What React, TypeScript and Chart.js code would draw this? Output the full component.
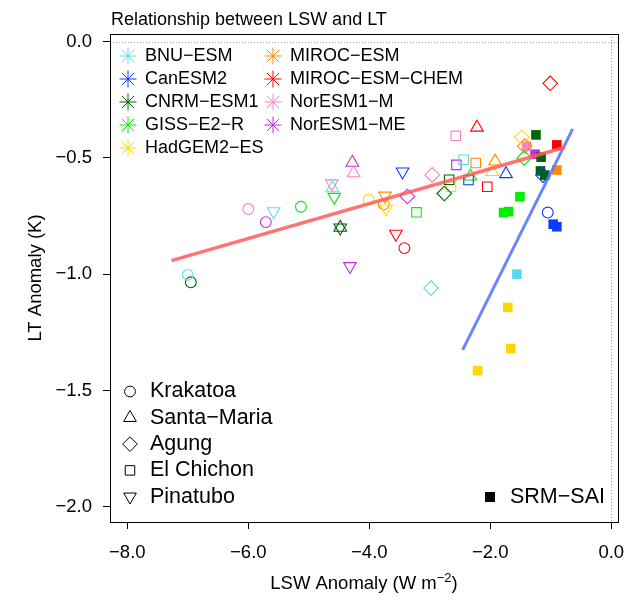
import React, { useEffect, useRef } from 'react';
import { Chart, registerables } from 'chart.js';
Chart.register(...registerables);

const MODELS = ['BNU−ESM', 'CanESM2', 'CNRM−ESM1', 'GISS−E2−R', 'HadGEM2−ES', 'MIROC−ESM', 'MIROC−ESM−CHEM', 'NorESM1−M', 'NorESM1−ME'];
const COLORS = ['#5ED6EE', '#0A3CFF', '#006400', '#00EE00', '#FFD700', '#FF8C00', '#FF0000', '#FF80C4', '#BE2EE0'];
const VOLCANOES = ['Krakatoa', 'Santa−Maria', 'Agung', 'El Chichon', 'Pinatubo'];

// Volcanic eruptions: order Krakatoa, Santa-Maria, Agung, El Chichon, Pinatubo
const VOLC_LSW = [
  [-7.00, -4.61, -2.98, -2.44, -5.58],
  [-1.05, -1.74, -1.13, -2.36, -3.45],
  [-6.95, -4.48, -2.76, -2.68, -4.48],
  [-5.13, -2.33, -1.44, -3.22, -4.58],
  [-4.01, -1.97, -1.48, -2.65, -3.72],
  [-3.76, -1.92, -1.43, -2.24, -3.74],
  [-3.42, -2.22, -1.01, -2.05, -3.56],
  [-6.00, -4.26, -2.96, -2.57, -4.62],
  [-5.71, -4.28, -3.37, -2.56, -4.32],
];
const VOLC_LT = [
  [-1.003, -0.63, -1.06, -0.508, -0.73],
  [-0.735, -0.569, -0.574, -0.595, -0.559],
  [-1.035, -0.80, -0.653, -0.594, -0.80],
  [-0.71, -0.579, -0.50, -0.734, -0.668],
  [-0.68, -0.56, -0.411, -0.624, -0.718],
  [-0.70, -0.515, -0.449, -0.522, -0.663],
  [-0.888, -0.369, -0.179, -0.624, -0.827],
  [-0.72, -0.565, -0.573, -0.405, -0.61],
  [-0.776, -0.52, -0.666, -0.53, -0.966],
];

// SRM-SAI points per model
const SRM_LSW = [
  [-1.56],
  [-0.96, -0.90],
  [-1.245, -1.16, -1.17, -1.10],
  [-1.51, -1.78, -1.70],
  [-1.71, -1.66, -2.21],
  [-0.90],
  [-0.90],
  [-1.40],
  [-1.26],
];
const SRM_LT = [
  [-1.0],
  [-0.785, -0.796],
  [-0.401, -0.497, -0.556, -0.574],
  [-0.667, -0.735, -0.731],
  [-1.143, -1.32, -1.415],
  [-0.552],
  [-0.444],
  [-0.449],
  [-0.484],
];

// Regression lines
const VOLC_FIT_X = [-7.27, -0.765];
const VOLC_FIT_Y = [-0.942, -0.454];
const SRM_FIT_X = [-2.456, -0.638];
const SRM_FIT_Y = [-1.326, -0.375];

const X_TICKS = [-8, -6, -4, -2, 0];
const Y_TICKS = [-2, -1.5, -1, -0.5, 0];

const FONT = "'Liberation Sans', Arial, Helvetica, sans-serif";

const SHAPES = ['circle', 'triangle', 'rectRot', 'rect', 'triangle'];
const ROTS = [0, 0, 0, 0, 180];
const RADII = [5.4, 7.3, 7.3, 6.7, 7.3];

const fmt = (v: number) => (v < 0 ? '−' : '') + Math.abs(v).toFixed(1);

function drawShape(ctx: CanvasRenderingContext2D, shape: number, x: number, y: number, color: string) {
  ctx.save();
  ctx.strokeStyle = color;
  ctx.lineWidth = 1;
  ctx.beginPath();
  const r = RADII[shape];
  if (shape === 0) {
    ctx.arc(x, y, r, 0, Math.PI * 2);
  } else if (shape === 1 || shape === 4) {
    const s = shape === 1 ? 1 : -1;
    ctx.moveTo(x, y - s * r);
    ctx.lineTo(x + r * 0.866, y + s * r * 0.5);
    ctx.lineTo(x - r * 0.866, y + s * r * 0.5);
    ctx.closePath();
  } else if (shape === 2) {
    ctx.moveTo(x, y - r);
    ctx.lineTo(x + r, y);
    ctx.lineTo(x, y + r);
    ctx.lineTo(x - r, y);
    ctx.closePath();
  } else {
    const h = r * Math.SQRT1_2;
    ctx.rect(x - h, y - h, 2 * h, 2 * h);
  }
  ctx.stroke();
  ctx.restore();
}

function drawStar(ctx: CanvasRenderingContext2D, x: number, y: number, r: number, color: string) {
  ctx.save();
  ctx.strokeStyle = color;
  ctx.lineWidth = 1;
  ctx.beginPath();
  ctx.moveTo(x - r, y); ctx.lineTo(x + r, y);
  ctx.moveTo(x, y - r); ctx.lineTo(x, y + r);
  const d = r * 0.72;
  ctx.moveTo(x - d, y - d); ctx.lineTo(x + d, y + d);
  ctx.moveTo(x - d, y + d); ctx.lineTo(x + d, y - d);
  ctx.stroke();
  ctx.restore();
}

const decorPlugin = {
  id: 'decor',
  beforeDatasetsDraw(chart: any) {
    const { ctx, chartArea: a, scales } = chart;
    const x0 = scales.x.getPixelForValue(0);
    const y0 = scales.y.getPixelForValue(0);
    ctx.save();
    ctx.strokeStyle = '#9a9a9a';
    ctx.lineWidth = 1;
    ctx.setLineDash([1, 2]);
    ctx.beginPath();
    ctx.moveTo(a.left, Math.round(y0) + 0.5);
    ctx.lineTo(a.right, Math.round(y0) + 0.5);
    ctx.moveTo(Math.round(x0) + 0.5, a.top);
    ctx.lineTo(Math.round(x0) + 0.5, a.bottom);
    ctx.stroke();
    ctx.restore();
  },
  afterDraw(chart: any) {
    const { ctx, chartArea: a } = chart;
    ctx.save();
    // box
    ctx.strokeStyle = '#000';
    ctx.lineWidth = 1;
    ctx.strokeRect(Math.round(a.left) + 0.5, Math.round(a.top) + 0.5, Math.round(a.right - a.left), Math.round(a.bottom - a.top));

    ctx.fillStyle = '#000';
    // title
    ctx.font = `18px ${FONT}`;
    ctx.textAlign = 'left';
    ctx.textBaseline = 'alphabetic';
    ctx.fillText('Relationship between LSW and LT', 111, 25);

    // y title
    ctx.save();
    ctx.translate(36, (a.top + a.bottom) / 2);
    ctx.rotate(-Math.PI / 2);
    ctx.font = `18.5px ${FONT}`;
    ctx.textAlign = 'center';
    ctx.textBaseline = 'middle';
    ctx.fillText('LT Anomaly (K)', 0, 0);
    ctx.restore();

    // x title with superscript
    const cx = (a.left + a.right) / 2;
    const yb = 589;
    ctx.font = `18.5px ${FONT}`;
    const p1 = 'LSW Anomaly (W m';
    const p3 = ')';
    const w1 = ctx.measureText(p1).width;
    const w3 = ctx.measureText(p3).width;
    ctx.font = `13px ${FONT}`;
    const p2 = '−2';
    const w2 = ctx.measureText(p2).width;
    const start = cx - (w1 + w2 + w3) / 2;
    ctx.textAlign = 'left';
    ctx.textBaseline = 'alphabetic';
    ctx.font = `18.5px ${FONT}`;
    ctx.fillText(p1, start, yb);
    ctx.font = `13px ${FONT}`;
    ctx.fillText(p2, start + w1, yb - 7);
    ctx.font = `18.5px ${FONT}`;
    ctx.fillText(p3, start + w1 + w2, yb);

    // model legend
    ctx.font = `18px ${FONT}`;
    ctx.textBaseline = 'middle';
    MODELS.forEach((m, i) => {
      const col = i < 5 ? 0 : 1;
      const row = i < 5 ? i : i - 5;
      const sx = col === 0 ? 128 : 273;
      const tx = col === 0 ? 145 : 290;
      const y = 56 + row * 23;
      drawStar(ctx, sx, y, 8.5, COLORS[i]);
      ctx.fillStyle = '#000';
      ctx.fillText(m, tx, y);
    });

    // volcano legend
    ctx.font = `21.5px ${FONT}`;
    VOLCANOES.forEach((v, i) => {
      const y = 391.5 + i * 26.3;
      drawShape(ctx, i, 130, y, '#000');
      ctx.fillStyle = '#000';
      ctx.fillText(v, 150, y);
    });

    // SRM legend
    ctx.fillStyle = '#000';
    ctx.fillRect(485, 492, 10, 10);
    ctx.fillText('SRM−SAI', 510, 497);
    ctx.restore();
  },
};

export default function App() {
  const ref = useRef<HTMLCanvasElement | null>(null);
  useEffect(() => {
    if (!ref.current) return;
    const datasets: any[] = [];
    datasets.push({
      label: 'volc fit',
      data: VOLC_FIT_X.map((x, i) => ({ x, y: VOLC_FIT_Y[i] })),
      showLine: true,
      borderColor: 'rgba(255,90,90,0.85)',
      borderWidth: 3.5,
      pointRadius: 0,
      order: 0,
    });
    datasets.push({
      label: 'srm fit',
      data: SRM_FIT_X.map((x, i) => ({ x, y: SRM_FIT_Y[i] })),
      showLine: true,
      borderColor: 'rgba(90,120,255,0.9)',
      borderWidth: 3,
      pointRadius: 0,
      order: 0,
    });
    MODELS.forEach((m, mi) => {
      datasets.push({
        label: m + ' volcanic',
        data: VOLC_LSW[mi].map((x, i) => ({ x, y: VOLC_LT[mi][i] })),
        pointStyle: SHAPES,
        pointRotation: ROTS,
        pointRadius: RADII,
        backgroundColor: 'rgba(0,0,0,0)',
        borderColor: COLORS[mi],
        borderWidth: 1.1,
        showLine: false,
        order: 1,
      });
      datasets.push({
        label: m + ' SRM',
        data: SRM_LSW[mi].map((x, i) => ({ x, y: SRM_LT[mi][i] })),
        pointStyle: 'rect',
        pointRadius: 6.8,
        backgroundColor: COLORS[mi],
        borderColor: COLORS[mi],
        borderWidth: 0,
        showLine: false,
        order: 2,
      });
    });

    const tickFont = { family: FONT, size: 18.5 };
    const chart = new Chart(ref.current, {
      type: 'scatter',
      data: { datasets },
      options: {
        animation: false,
        responsive: false,
        devicePixelRatio: 1,
        layout: { padding: { left: 0, right: 9, top: 34, bottom: 0 } },
        plugins: { legend: { display: false }, tooltip: { enabled: false }, title: { display: false } },
        scales: {
          x: {
            type: 'linear',
            min: -8.286,
            max: 0.111,
            afterFit: (s: any) => { s.height = 79; s.paddingLeft = 0; s.paddingRight = 0; },
            afterBuildTicks: (s: any) => { s.ticks = X_TICKS.map((v) => ({ value: v })); },
            border: { display: false },
            grid: { drawOnChartArea: false, drawTicks: true, tickLength: 7, color: '#000', tickColor: '#000', tickWidth: 1 },
            ticks: { color: '#000', font: tickFont, padding: 13, maxRotation: 0, autoSkip: false, callback: (v: any) => fmt(Number(v)) },
          },
          y: {
            type: 'linear',
            min: -2.066,
            max: 0.033,
            afterFit: (s: any) => { s.width = 110; s.paddingTop = 0; s.paddingBottom = 0; },
            afterBuildTicks: (s: any) => { s.ticks = Y_TICKS.map((v) => ({ value: v })); },
            border: { display: false },
            grid: { drawOnChartArea: false, drawTicks: true, tickLength: 7, color: '#000', tickColor: '#000', tickWidth: 1 },
            ticks: { color: '#000', font: tickFont, padding: 11, autoSkip: false, callback: (v: any) => fmt(Number(v)) },
          },
        },
      },
      plugins: [decorPlugin],
    });
    return () => chart.destroy();
  }, []);

  return (
    <div style={{ position: 'absolute', left: 0, top: 0, width: 627, height: 601, background: '#fff' }}>
      <canvas ref={ref} width={627} height={601} style={{ width: 627, height: 601, display: 'block' }} />
    </div>
  );
}
